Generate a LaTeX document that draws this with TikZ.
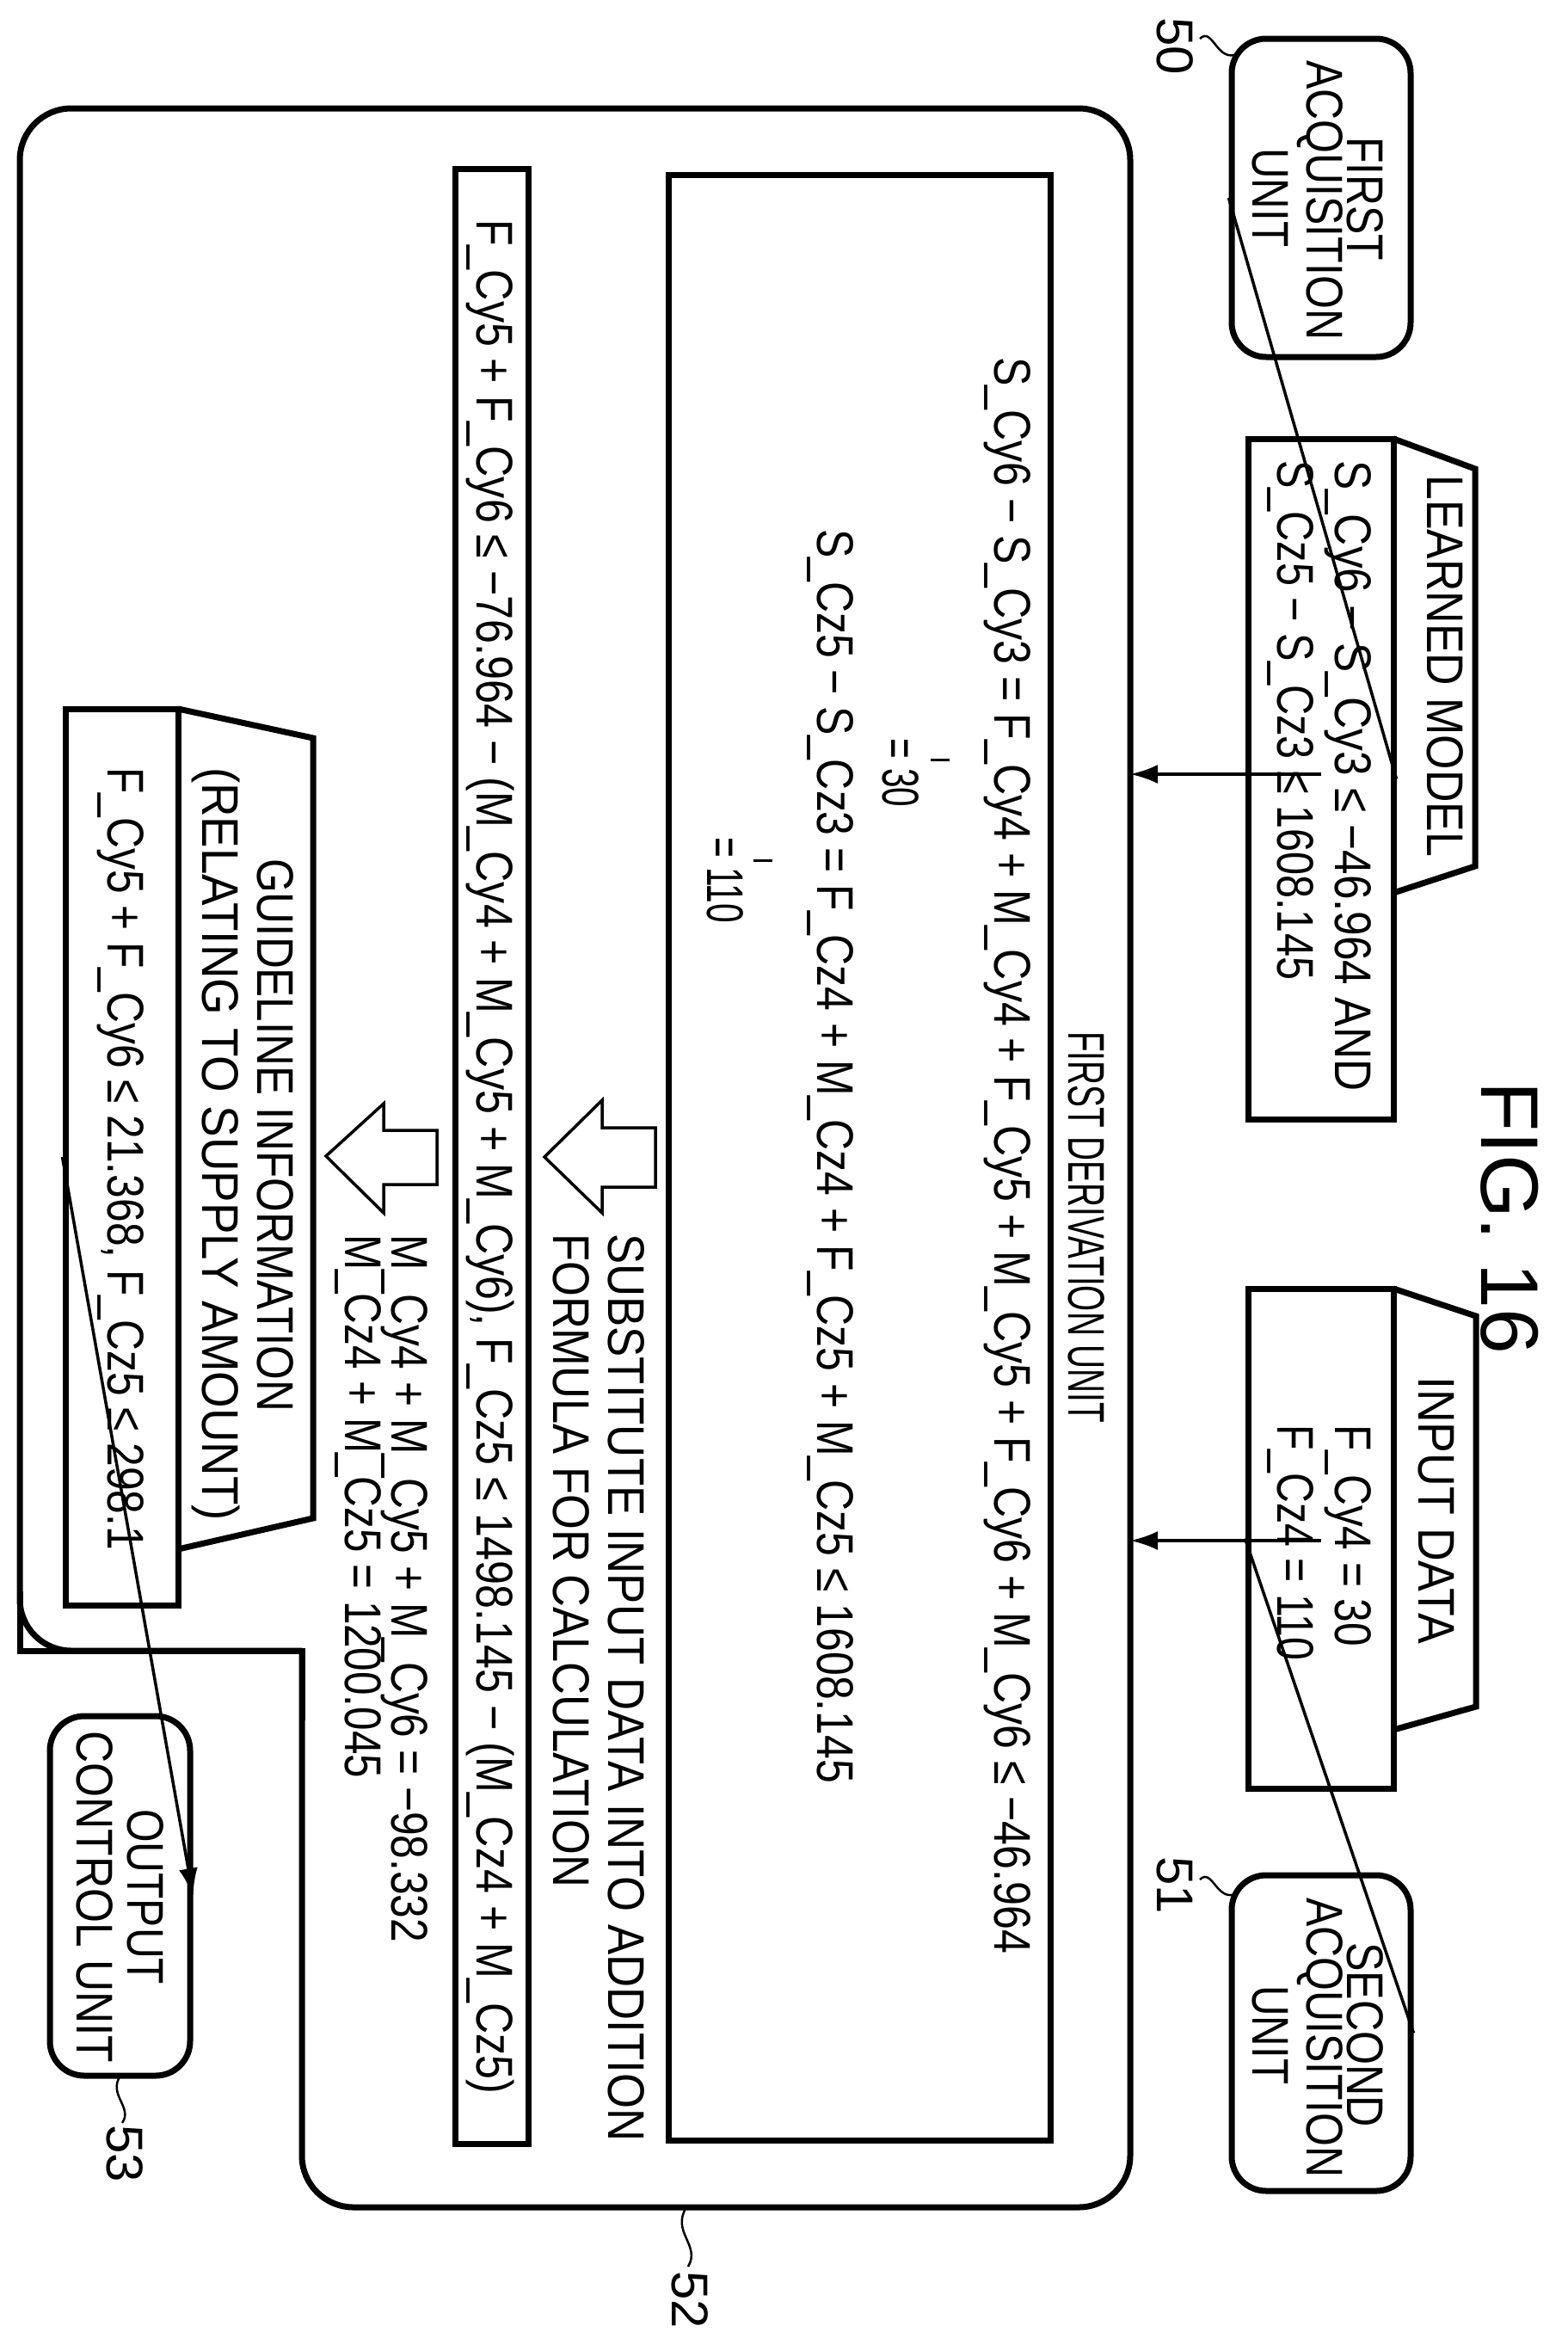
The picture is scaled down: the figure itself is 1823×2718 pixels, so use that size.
\documentclass[tikz,border=0pt]{standalone}
\usepackage{fontspec}
\setmainfont{Liberation Sans}
\usetikzlibrary{arrows.meta}
\newcommand\tl[4]{\node[txt,anchor=west] at (#1,#2) {\resizebox{#3pt}{\height}{#4}};}
\begin{document}
\begin{tikzpicture}[x=1pt,y=-1pt,
  txt/.style={rotate=-90,inner sep=0pt,font=\fontsize{60}{60}\selectfont},
  box/.style={draw,line width=7pt},
  rbox/.style={draw,line width=7pt,rounded corners=40pt,minimum size=0pt,inner sep=0pt},
  conn/.style={line width=3.5pt},
  arr/.style={line width=3.5pt,-{Latex[length=32pt,width=22pt]}},
  hol/.style={draw,line width=3.5pt,line join=miter}]
\useasboundingbox (0,0) rectangle (1823,2718);
% outer unit 52
\draw[line width=7pt,rounded corners=60pt] (351,1919) -- (351,2566) -- (1314,2566) -- (1314,126) -- (23,126) -- (23,1919) [sharp corners]-- (351,1919);
\draw[line width=7pt] (23,1850) -- (23,1919) -- (351,1919) -- (351,2000);
% inner boxes
\node[box,minimum width=444pt,minimum height=2285pt,inner sep=0pt] (deriv) at (999,1345.5) {};
\node[box,minimum width=85pt,minimum height=2296pt,inner sep=0pt] (fbox) at (571.5,1344) {};
% acquisition units
\node[rbox,minimum width=208pt,minimum height=370pt] (acq1) at (1536,230) {};
\node[rbox,minimum width=208pt,minimum height=367pt] (acq2) at (1536,2363.5) {};
\node[rbox,minimum width=163pt,minimum height=418pt] (outc) at (139.5,2204) {};
% learned model
\node[box,minimum width=169pt,minimum height=791pt,inner sep=0pt] (lm) at (1535.5,905.5) {};
\draw[line width=7pt,line join=miter] (1620,510) -- (1715,545) -- (1715,1007) -- (1620,1038);
% input data
\node[box,minimum width=169pt,minimum height=581pt,inner sep=0pt] (inp) at (1535.5,1788.5) {};
\draw[line width=7pt,line join=miter] (1620,1498) -- (1716,1530) -- (1716,1984) -- (1620,2011);
% guideline
\node[box,minimum width=131pt,minimum height=1042pt,inner sep=0pt] (gl) at (141.5,1345) {};
\draw[line width=7pt,line join=miter] (207,824) -- (364,858) -- (364,1765) -- (207,1801);
% connectors
\draw[conn] (acq1.west) -- (lm.east);
\draw[conn] (inp.west) -- (acq2.east);
\coordinate (d1) at (1314,900);
\coordinate (d2) at (1314,1791);
\draw[arr] (lm.south |- d1) -- (d1);
\draw[arr] (inp.south |- d2) -- (d2);
\draw[arr] (gl.west) -- (outc.east);
% hollow arrows
\draw[hol] (633,1345) -- (700,1279) -- (700,1311) -- (762,1311) -- (762,1380) -- (700,1380) -- (700,1410) -- cycle;
\draw[hol] (379,1344) -- (446,1283) -- (446,1314) -- (508,1314) -- (508,1377) -- (446,1377) -- (446,1410) -- cycle;
% ticks
\draw[line width=3pt] (1082,883) -- (1104,883);
\draw[line width=3pt] (876,1000) -- (898,1000);
% texts
\tl{1587}{159}{144}{FIRST}
\tl{1535}{70}{325}{ACQUISITION}
\tl{1477}{172}{115}{UNIT}
\tl{1587}{2258}{215}{SECOND}
\tl{1535}{2206}{325}{ACQUISITION}
\tl{1477}{2308}{115}{UNIT}
\tl{169}{2103}{204}{OUTPUT}
\tl{110}{2012}{386}{CONTROL UNIT}
\tl{1680}{552}{444}{LEARNED MODEL}
\tl{1567}{535}{733}{S\_Cy6 − S\_Cy3 ≤ −46.964 AND}
\tl{1500}{535}{604}{S\_Cz5 − S\_Cz3 ≤ 1608.145}
\tl{1670}{1600}{311}{INPUT DATA}
\tl{1567}{1656}{258}{F\_Cy4 = 30}
\tl{1500}{1656}{274}{F\_Cz4 = 110}
\tl{1263}{1199}{455}{FIRST DERIVATION UNIT}
\tl{1171}{415}{1856}{S\_Cy6 − S\_Cy3 = F\_Cy4 + M\_Cy4 + F\_Cy5 + M\_Cy5 + F\_Cy6 + M\_Cy6 ≤ −46.964}
\tl{1047}{858}{80}{= 30}
\tl{965}{615}{1458}{S\_Cz5 − S\_Cz3 = F\_Cz4 + M\_Cz4 + F\_Cz5 + M\_Cz5 ≤ 1608.145}
\tl{843}{973}{100}{= 110}
\tl{728}{1434}{1055}{SUBSTITUTE INPUT DATA INTO ADDITION}
\tl{664}{1434}{760}{FORMULA FOR CALCULATION}
\tl{570}{255}{2179}{F\_Cy5 + F\_Cy6 ≤ −76.964 − (M\_Cy4 + M\_Cy5 + M\_Cy6), F\_Cz5 ≤ 1498.145 − (M\_Cz4 + M\_Cz5)}
\tl{470}{1435}{823}{M\_Cy4 + M\_Cy5 + M\_Cy6 = −98.332}
\tl{416}{1435}{632}{M\_Cz4 + M\_Cz5 = 1200.045}
\tl{320}{998}{643}{GUIDELINE INFORMATION}
\tl{251}{892}{876}{(RELATING TO SUPPLY AMOUNT)}
\tl{140}{892}{910}{F\_Cy5 + F\_Cy6 ≤ 21.368, F\_Cz5 ≤ 298.1}
% reference labels
\node[txt,anchor=west] (l50) at (1366,20) {50};
\node[txt,anchor=west] (l51) at (1366,2158) {51};
\node[txt,anchor=west] (l52) at (802,2640) {52};
\node[txt,anchor=west] (l53) at (145,2470) {53};
\draw[line width=2.5pt] (1395,45) .. controls (1410,30) and (1415,75) .. (1440,62);
\draw[line width=2.5pt] (1395,2185) .. controls (1410,2170) and (1415,2215) .. (1440,2200);
\draw[line width=2.5pt] (798,2566) .. controls (780,2595) and (815,2610) .. (800,2635);
\draw[line width=2.5pt] (140,2413) .. controls (125,2435) and (155,2450) .. (142,2468);
\node[rotate=-90,inner sep=0pt,font=\fontsize{95}{95}\selectfont] (fig) at (1755,1416) {FIG. 16};
\end{tikzpicture}
\end{document}
